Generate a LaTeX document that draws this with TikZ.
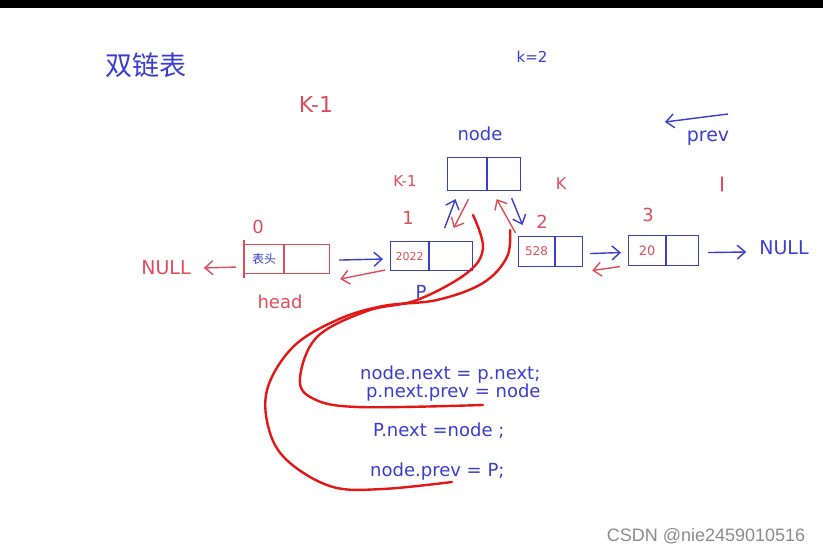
\documentclass[tikz,border=0pt]{standalone}
\usepackage{fontspec}
\setmainfont{DejaVu Sans}
\newfontfamily\cjk{Noto Sans CJK SC}
\newfontfamily\markfont{Liberation Sans}
\usetikzlibrary{arrows.meta}
\definecolor{inkblue}{RGB}{58,62,208}
\definecolor{inkred}{RGB}{222,78,90}
\definecolor{penred}{RGB}{228,22,22}

\begin{document}
\begin{tikzpicture}[x=1pt,y=-1pt]
        \tikzstyle{cell}=[draw,inner sep=0pt,line width=1.1pt,minimum height=29pt]
        \tikzstyle{hand}=[inner sep=0pt,font=\fontsize{18}{18}\selectfont]
        \tikzstyle{code line}=[hand,text=inkblue,anchor=base west]
        \tikzstyle{blue arrow}=[draw=inkblue,line width=1.4pt,-{Straight Barb[length=8pt,width=14pt]}]
        \tikzstyle{red arrow}=[draw=inkred,line width=1.4pt,-{Straight Barb[length=8pt,width=14pt]}]
        \tikzstyle{curve}=[draw=penred,line width=2.4pt,line cap=round,line join=round]
        \fill[white] (0,0) rectangle (823,553);
        \useasboundingbox (0,0) rectangle (823,553);
        \fill[black] (0,0) rectangle (823,8);

        % titles
        \node[hand,text=inkblue,font=\cjk\fontsize{27}{27}\selectfont] (Title) at (146,65) {双链表};
        \node[hand,text=inkblue,font=\fontsize{15}{15}\selectfont] (KTwo) at (532,57) {k=2};
        \node[hand,text=inkred,font=\fontsize{22}{22}\selectfont] (KMinusTop) at (316,104) {K-1};
        \coordinate (PrevTail) at (728,114);
        \coordinate (PrevHead) at (665,122);
        \draw[blue arrow] (PrevTail) -- (PrevHead);
        \node[hand,text=inkblue,font=\fontsize{19}{19}\selectfont] (PrevLabel) at (708,138) {prev};
        \draw[inkred,line width=1.5pt,line cap=round] (722,177) -- (722,191);

        % new node
        \node[hand,text=inkblue] (NewLabel) at (480,134) {node};
        \node[cell,draw=inkblue,minimum width=39pt,minimum height=33pt,anchor=north west] (NewData) at (447,157) {};
        \node[cell,draw=inkblue,minimum width=33pt,minimum height=33pt,anchor=west] (NewPtr) at (NewData.east) {};
        \node[hand,text=inkred,font=\fontsize{15}{15}\selectfont] (KMinus) at (405,181) {K-1};
        \node[hand,text=inkred,font=\fontsize{16}{16}\selectfont] (KLabel) at (561,184) {K};

        % list
        \node[cell,draw=inkred,minimum width=39pt,anchor=north west] (HeadData) at (244,244) {\cjk\fontsize{12}{12}\selectfont\color{inkblue}表头};
        \node[cell,draw=inkred,minimum width=45pt,anchor=west] (HeadPtr) at (HeadData.east) {};
        \draw[inkred,line width=1.4pt] ([shift={(0,-4)}]HeadData.north west) -- ([shift={(0,4)}]HeadData.south west);
        \node[cell,draw=inkblue,minimum width=38pt,anchor=north west] (OneData) at (390,241) {\fontsize{11}{11}\selectfont\color{inkred}2022};
        \node[cell,draw=inkblue,minimum width=43pt,anchor=west] (OnePtr) at (OneData.east) {};
        \node[cell,draw=inkblue,minimum width=36pt,minimum height=30pt,anchor=north west] (TwoData) at (518,236) {\fontsize{12}{12}\selectfont\color{inkred}528};
        \node[cell,draw=inkblue,minimum width=27pt,minimum height=30pt,anchor=west] (TwoPtr) at (TwoData.east) {};
        \node[cell,draw=inkblue,minimum width=37pt,minimum height=30pt,anchor=north west] (ThreeData) at (628,235) {\fontsize{13}{13}\selectfont\color{inkred}20};
        \node[cell,draw=inkblue,minimum width=32pt,minimum height=30pt,anchor=west] (ThreePtr) at (ThreeData.east) {};

        \node[hand,text=inkred] (IdxZero) at (258,227) {0};
        \node[hand,text=inkred] (IdxOne) at (408,218) {1};
        \node[hand,text=inkred] (IdxTwo) at (542,222) {2};
        \node[hand,text=inkred] (IdxThree) at (648,215) {3};
        \node[hand,text=inkred] (HeadLabel) at (280,302) {head};
        \node[hand,text=inkblue] (PLabel) at (421,292) {P};
        \node[hand,text=inkred,font=\fontsize{19}{19}\selectfont] (NullLeft) at (166,268) {NULL};
        \node[hand,text=inkblue,font=\fontsize{19}{19}\selectfont] (NullRight) at (784,248) {NULL};

        \draw[red arrow] ([shift={(-8,8)}]HeadData.west) -- ([shift={(13,0)}]NullLeft.east);
        \draw[blue arrow] ([shift={(9,1)}]HeadPtr.east) -- ([shift={(-7,3)}]OneData.west);
        \draw[red arrow] ([shift={(-5,14)}]OneData.west) -- ([shift={(10,20)}]HeadPtr.east);
        \draw[blue arrow] ([shift={(7,2)}]TwoPtr.east) -- ([shift={(-7,2)}]ThreeData.west);
        \draw[red arrow] ([shift={(-8,16)}]ThreeData.west) -- ([shift={(9,19)}]TwoPtr.east);
        \draw[blue arrow] ([shift={(9,2)}]ThreePtr.east) -- ([shift={(-13,4)}]NullRight.west);

        \draw[blue arrow] ([shift={(-6.5,-13)}]OnePtr.north) -- ([shift={(-11.5,8)}]NewData.south);
        \draw[red arrow] ([shift={(1.5,8)}]NewData.south) -- ([shift={(2.5,-13)}]OnePtr.north);
        \draw[red arrow] ([shift={(-21,-3)}]TwoData.north) -- ([shift={(-7.5,8)}]NewPtr.south);
        \draw[blue arrow] ([shift={(7.5,7)}]NewPtr.south) -- ([shift={(-14,-11)}]TwoData.north);

        % code
        \node[code line] (CodeOne) at (360,380) {node.next = p.next;};
        \node[code line] (CodeTwo) at (366,398) {p.next.prev = node};
        \node[code line] (CodeThree) at (373,437) {P.next =node ;};
        \node[code line] (CodeFour) at (370,477) {node.prev = P;};

        \draw[curve] plot[smooth,tension=0.6] coordinates {(473,215) (483,248) (467,273) (417,300) (367,311) (317,337) (300,378) (312,398) (357,407) (483,405)};
        \draw[curve] plot[smooth,tension=0.6] coordinates {(510,230) (507,257) (483,283) (437,300) (383,306) (337,320) (293,347) (267,390) (270,433) (290,463) (333,487) (383,489) (452,482)};

        \node[hand,text=black!45,font=\markfont\fontsize{18}{18}\selectfont] (Mark) at (706,536) {CSDN @nie2459010516};
    \end{tikzpicture}
\end{document}
